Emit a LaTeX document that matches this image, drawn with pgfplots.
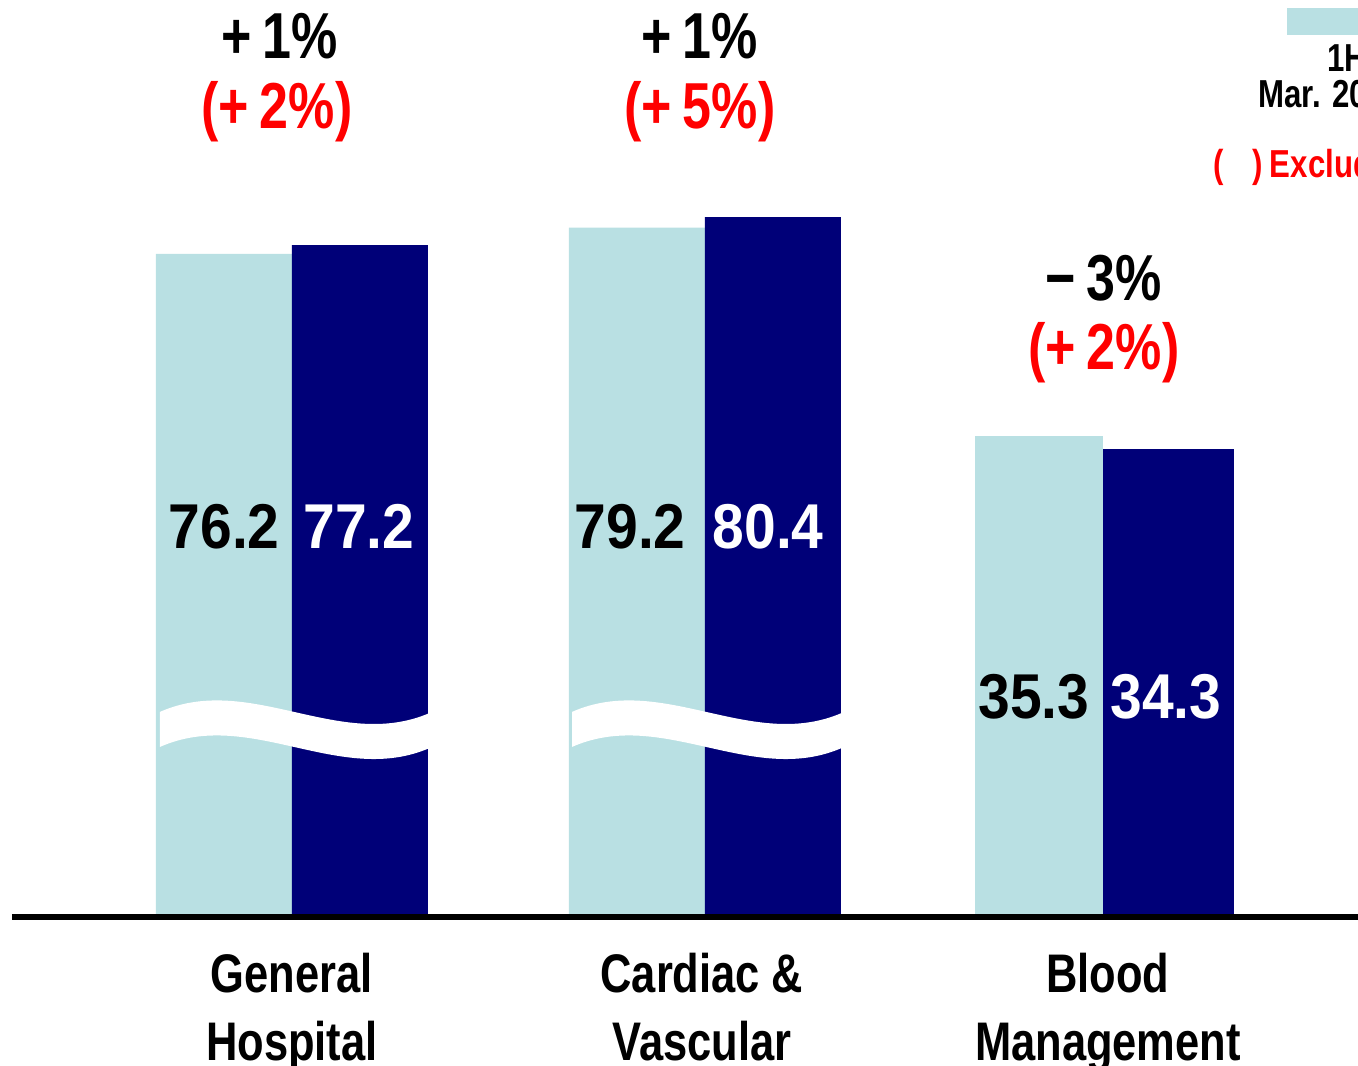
\documentclass[border=0pt]{standalone}
\usepackage{fontspec}
\setmainfont{Liberation Sans}[FakeStretch=0.8]
\newfontfamily\numfont{Liberation Sans}[FakeStretch=0.9]
\usepackage{pgfplots}
\pgfplotsset{compat=1.18}
\definecolor{lightbar}{RGB}{185,224,227}
\definecolor{darkbar}{RGB}{0,0,120}
\definecolor{redtxt}{RGB}{255,0,0}
% broken axis: values above 70 are squeezed
\pgfplotsset{brk/.style={y filter/.expression={y>70 ? 0.643*y-0.3 : y}}}
\begin{document}
\begin{tikzpicture}
\begin{axis}[
  name=ax,
  width=407.4pt, height=319.5pt, scale only axis,
  xmin=-0.719, xmax=2.626, ymin=-11.05, ymax=67.4,
  axis x line=middle, axis y line=none,
  x axis line style={draw=none},
  hide obscured x ticks=false,
  xtick={0,1.01,2.01},
  xticklabels={General\\Hospital, Cardiac \&\\Vascular, Blood\\Management},
  major tick length=0pt,
  xticklabel style={align=center, anchor=north, yshift=-8pt,
    font=\bfseries\fontsize{16.3}{20.4}\selectfont},
  ytick=\empty,
  ybar,
  clip=false,
]
\addplot[fill=lightbar, draw=none, bar width=0.335, bar shift=-0.1675, brk]
  coordinates {(0,76.2) (1.017,79.2)};
\addplot[fill=darkbar, draw=none, bar width=0.335, bar shift=0.1675, brk]
  coordinates {(0,77.2) (1.017,80.4)};
\addplot[fill=lightbar, draw=none, bar width=0.315, bar shift=-0.1575]
  coordinates {(1.998,35.3)};
\addplot[fill=darkbar, draw=none, bar width=0.323, bar shift=0.1615]
  coordinates {(1.998,34.3)};

% break marks
\fill[white] (axis cs:-0.325,14.96) .. controls (axis cs:-0.103,17.9) and (axis cs:0.118,12.0) .. (axis cs:0.34,14.89)
  -- (axis cs:0.34,12.31) .. controls (axis cs:0.118,9.42) and (axis cs:-0.103,15.32) .. (axis cs:-0.325,12.38) -- cycle;
\fill[white] (axis cs:0.69,14.96) .. controls (axis cs:0.912,17.9) and (axis cs:1.133,12.0) .. (axis cs:1.355,14.89)
  -- (axis cs:1.355,12.31) .. controls (axis cs:1.133,9.42) and (axis cs:0.912,15.32) .. (axis cs:0.69,12.38) -- cycle;

\draw[line width=1.8pt] (axis cs:-0.69,-0.15) -- (axis cs:2.626,-0.15);

% values
\begin{scope}[every node/.style={font=\numfont\bfseries\fontsize{19}{22}\selectfont}]
\node[black] at (axis cs:-0.167,28.6) {76.2};
\node[white] at (axis cs:0.165,28.6) {77.2};
\node[black] at (axis cs:0.833,28.6) {79.2};
\node[white] at (axis cs:1.173,28.6) {80.4};
\node[black] at (axis cs:1.828,16.1) {35.3};
\node[white] at (axis cs:2.153,16.1) {34.3};
\end{scope}

% growth rates
\begin{scope}[every node/.style={font=\bfseries\fontsize{19.5}{22}\selectfont}]
\node[black] at (axis cs:-0.03,64.7) {+\,1\%};
\node[redtxt] at (axis cs:-0.037,59.2) {(+\,2\%)};
\node[black] at (axis cs:1.005,64.7) {+\,1\%};
\node[redtxt] at (axis cs:1.005,59.2) {(+\,5\%)};
\node[black] at (axis cs:2.0,46.9) {−\,3\%};
\node[redtxt] at (axis cs:2.0,41.4) {(+\,2\%)};
\end{scope}

% legend (cut at the right edge)
\fill[lightbar] (axis cs:2.451,66.8) rectangle (axis cs:2.8,64.85);
\begin{scope}[every node/.style={font=\bfseries\fontsize{11.7}{14}\selectfont, anchor=base west, inner sep=0pt}]
\node at (axis cs:2.548,62.1) {1H FY2023};
\node at (axis cs:2.379,59.5) {Mar. 2024};
\node[redtxt] at (axis cs:2.268,54.3) {(\hspace{0.75em})\,Excluding FX impact};
\end{scope}
\end{axis}
\pgfresetboundingbox
\path[use as bounding box] (ax.south west) rectangle (ax.north east);
\end{tikzpicture}
\end{document}
